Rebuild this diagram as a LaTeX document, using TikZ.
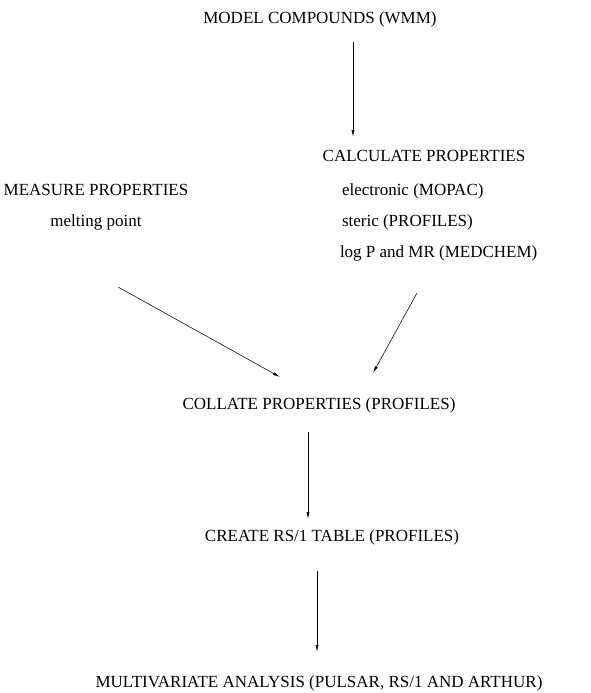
\documentclass[tikz,border=0pt]{standalone}
\usepackage{fontspec}
\setmainfont{Liberation Serif}
\usetikzlibrary{arrows.meta,positioning}
\tikzset{>={Latex[length=7pt,width=3pt]}}
\tikzstyle{step label}=[
	 inner sep=0pt, outer sep=0pt,
	 text height=12pt, text depth=4pt,
	 font=\fontsize{17}{20}\selectfont
    ]
\tikzstyle{flow}=[->, line width=0.55pt]

\begin{document}
\begin{tikzpicture}[x=1pt,y=1pt]
\useasboundingbox (0,0) rectangle (590,-693);

\node[step label] (model) at (320,-20) {MODEL COMPOUNDS (WMM)};

\node[step label] (calc) at (424,-157) {CALCULATE PROPERTIES};
\node[step label,anchor=west] (elec) at (342,-191) {electronic (MOPAC)};
\node[step label,below=31pt of elec.south west,anchor=south west] (ster) {steric (PROFILES)};
\node[step label,below=31pt of ster.south west,anchor=south west,xshift=-2pt] (logp) {log P and MR (MEDCHEM)};

\node[step label] (meas) at (96,-191) {MEASURE PROPERTIES};
\node[step label,below=31pt of meas.south,anchor=south] (melt) {melting point};

\node[step label] (coll) at (319,-405) {COLLATE PROPERTIES (PROFILES)};
\node[step label] (crea) at (332,-537) {CREATE RS/1 TABLE (PROFILES)};
\node[step label] (multi) at (319,-683) {MULTIVARIATE ANALYSIS (PULSAR, RS/1 AND ARTHUR)};

\draw[flow] ([shift={(33,-22)}]model.center) -- ([shift={(-71,20)}]calc.center);
\draw[flow] ([shift={(22,-65)}]melt.center) -- ([shift={(-39,28)}]coll.center);
\draw[flow] ([shift={(77,-40)}]logp.west) -- ([shift={(54,32)}]coll.center);
\draw[flow] ([shift={(-11,-27)}]coll.center) -- ([shift={(-24,18)}]crea.center);
\draw[flow] ([shift={(-15,-34)}]crea.center) -- ([shift={(-2,31)}]multi.center);

\end{tikzpicture}
\end{document}
